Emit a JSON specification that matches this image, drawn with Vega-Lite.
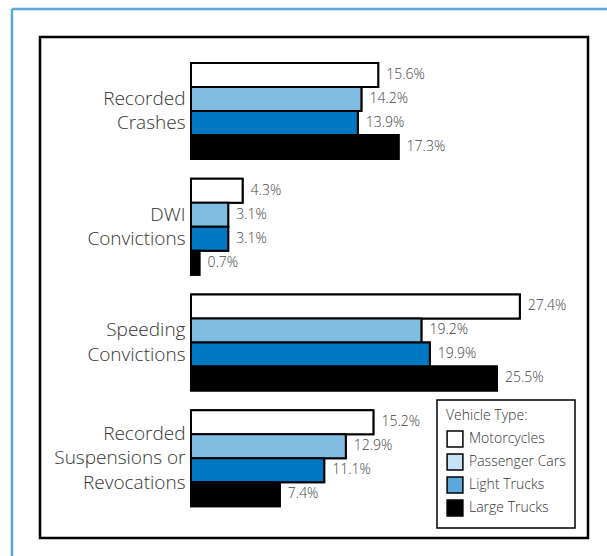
{
  "$schema": "https://vega.github.io/schema/vega-lite/v6.json",
  "width": 548,
  "height": 501,
  "autosize": {"type": "none"},
  "padding": {"left": 40, "top": 37, "right": 19, "bottom": 18},
  "background": "white",
  "config": {"font": "Open Sans", "view": {"stroke": "black", "strokeWidth": 2.5}},
  "data": {
    "values": [
      {"measure": "Recorded Crashes", "type": "Motorcycles", "value": 15.6, "label": "15.6%"},
      {"measure": "Recorded Crashes", "type": "Passenger Cars", "value": 14.2, "label": "14.2%"},
      {"measure": "Recorded Crashes", "type": "Light Trucks", "value": 13.9, "label": "13.9%"},
      {"measure": "Recorded Crashes", "type": "Large Trucks", "value": 17.3, "label": "17.3%"},
      {"measure": "DWI Convictions", "type": "Motorcycles", "value": 4.3, "label": "4.3%"},
      {"measure": "DWI Convictions", "type": "Passenger Cars", "value": 3.1, "label": "3.1%"},
      {"measure": "DWI Convictions", "type": "Light Trucks", "value": 3.1, "label": "3.1%"},
      {"measure": "DWI Convictions", "type": "Large Trucks", "value": 0.7, "label": "0.7%"},
      {"measure": "Speeding Convictions", "type": "Motorcycles", "value": 27.4, "label": "27.4%"},
      {"measure": "Speeding Convictions", "type": "Passenger Cars", "value": 19.2, "label": "19.2%"},
      {"measure": "Speeding Convictions", "type": "Light Trucks", "value": 19.9, "label": "19.9%"},
      {"measure": "Speeding Convictions", "type": "Large Trucks", "value": 25.5, "label": "25.5%"},
      {"measure": "Recorded Suspensions or Revocations", "type": "Motorcycles", "value": 15.2, "label": "15.2%"},
      {"measure": "Recorded Suspensions or Revocations", "type": "Passenger Cars", "value": 12.9, "label": "12.9%"},
      {"measure": "Recorded Suspensions or Revocations", "type": "Light Trucks", "value": 11.1, "label": "11.1%"},
      {"measure": "Recorded Suspensions or Revocations", "type": "Large Trucks", "value": 7.4, "label": "7.4%"}
    ]
  },
  "resolve": {"scale": {"y": "independent"}},
  "layer": [
    {
      "data": {"values": [{}]},
      "layer": [
        {
          "mark": {"type": "rule", "stroke": "#5aa9dc", "strokeWidth": 2.5, "clip": false},
          "encoding": {
            "x": {"datum": -14.92, "type": "quantitative", "scale": {"domain": [-12.5833, 33.0833], "nice": false, "zero": false}, "axis": null},
            "x2": {"datum": 35},
            "y": {"datum": 1.0559, "type": "quantitative", "scale": {"domain": [0, 1], "nice": false, "zero": false}, "axis": null}
          }
        },
        {
          "mark": {"type": "rule", "stroke": "#5aa9dc", "strokeWidth": 2.5, "clip": false},
          "encoding": {
            "x": {"datum": -14.92, "type": "quantitative", "scale": {"domain": [-12.5833, 33.0833], "nice": false, "zero": false}, "axis": null},
            "y": {"datum": 1.0559, "type": "quantitative", "scale": {"domain": [0, 1], "nice": false, "zero": false}, "axis": null},
            "y2": {"datum": -0.045}
          }
        }
      ]
    },
    {
      "encoding": {
        "x": {"field": "value", "type": "quantitative", "scale": {"domain": [-12.5833, 33.0833], "nice": false, "zero": false}, "axis": null},
        "y": {
          "field": "measure", "type": "nominal",
          "sort": ["Recorded Crashes", "DWI Convictions", "Speeding Convictions", "Recorded Suspensions or Revocations"],
          "scale": {"paddingInner": 0.17, "paddingOuter": 0.25, "align": 0.45},
          "axis": {
            "title": null, "orient": "left", "offset": -151, "domain": false, "ticks": false, "tickSize": 0, "grid": false,
            "labelPadding": 6, "labelFontSize": 19, "labelFontWeight": 300, "labelColor": "#333333", "labelLineHeight": 24.5, "labelLimit": 0,
            "labelAlign": "right", "labelBaseline": "middle",
            "labelOffset": {"condition": {"test": "datum.value == 'Recorded Suspensions or Revocations'", "value": -24.5}, "value": -12.25},
            "labelExpr": "datum.value == 'Recorded Crashes' ? ['Recorded','Crashes'] : datum.value == 'DWI Convictions' ? ['DWI','Convictions'] : datum.value == 'Speeding Convictions' ? ['Speeding','Convictions'] : ['Recorded','Suspensions or','Revocations']"
          }
        },
        "yOffset": {
          "field": "type", "type": "nominal",
          "sort": ["Motorcycles", "Passenger Cars", "Light Trucks", "Large Trucks"],
          "scale": {"paddingInner": 0, "paddingOuter": 0}
        }
      },
      "layer": [
        {
          "mark": {"type": "bar", "stroke": "black", "strokeWidth": 2},
          "encoding": {
            "x2": {"datum": 0},
            "color": {
              "field": "type", "type": "nominal",
              "scale": {"domain": ["Motorcycles", "Passenger Cars", "Light Trucks", "Large Trucks"], "range": ["white", "#c6e3f6", "#5ca8da", "black"]},
              "legend": {
                "orient": "none", "legendX": 397, "legendY": 363,
                "title": "Vehicle Type:", "titleFontSize": 14, "titleFontWeight": 300, "titleColor": "#333333", "titlePadding": 7,
                "labelFontSize": 14, "labelFontWeight": 300, "labelColor": "#333333", "labelOffset": 5,
                "symbolType": "square", "symbolSize": 250, "symbolStrokeColor": "black", "symbolStrokeWidth": 1.5, "symbolOpacity": 1,
                "strokeColor": "black", "fillColor": "white", "padding": 9, "rowPadding": 1,
                "encode": {"legend": {"update": {"strokeWidth": {"value": 1.5}}}}
              }
            }
          }
        },
        {
          "mark": {"type": "bar", "stroke": "black", "strokeWidth": 2},
          "encoding": {
            "x2": {"datum": 0},
            "fill": {
              "field": "type", "type": "nominal",
              "scale": {"domain": ["Motorcycles", "Passenger Cars", "Light Trucks", "Large Trucks"], "range": ["white", "#80bde1", "#0078c1", "black"]},
              "legend": null
            }
          }
        },
        {
          "mark": {"type": "text", "align": "left", "baseline": "middle", "dx": 8, "fontSize": 14, "fontWeight": 300, "color": "#444444"},
          "encoding": {"text": {"field": "label"}}
        }
      ]
    }
  ]
}
